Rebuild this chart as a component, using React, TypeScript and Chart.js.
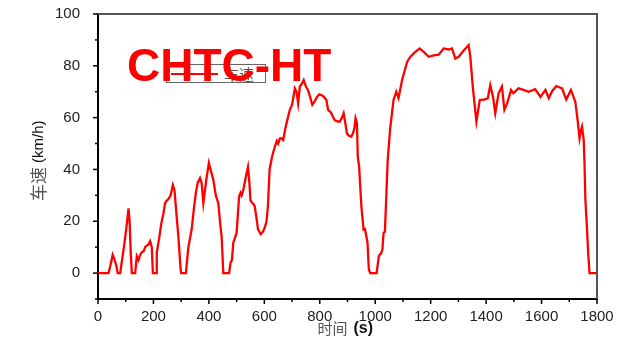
import React, { useEffect, useRef } from "react";
import { Chart, registerables } from "chart.js";

Chart.register(...registerables);

const timeS = [
  0, 38, 45, 53, 60, 66, 71, 80, 88, 96, 104, 110, 114, 118, 122, 134, 140, 146, 152, 158,
  165, 170, 176, 182, 188, 194, 198, 210, 212, 220, 228, 236, 242, 248, 254, 262, 270, 276, 282, 290,
  298, 300, 317, 326, 338, 346, 353, 360, 368, 374, 380, 386, 392, 400, 406, 416, 425, 434, 440, 446,
  452, 473, 478, 483, 488, 500, 506, 509, 514, 518, 524, 533, 541, 546, 550, 558, 565, 572, 577, 587,
  595, 601, 608, 613, 619, 628, 638, 645, 650, 656, 662, 668, 677, 685, 692, 700, 705, 710, 716, 722,
  728, 735, 742, 750, 758, 765, 773, 780, 790, 798, 806, 815, 824, 830, 840, 854, 865, 872, 880, 886,
  892, 898, 905, 914, 920, 925, 929, 934, 937, 942, 950, 958, 963, 968, 972, 977, 982, 1005, 1013, 1018,
  1021, 1026, 1030, 1035, 1045, 1054, 1066, 1076, 1084, 1097, 1115, 1127, 1145, 1160, 1175, 1193, 1211, 1229, 1247, 1265,
  1277, 1289, 1301, 1319, 1337, 1343, 1353, 1365, 1377, 1397, 1406, 1415, 1425, 1433, 1445, 1457, 1466, 1476, 1490, 1498,
  1517, 1535, 1553, 1577, 1596, 1614, 1626, 1638, 1653, 1674, 1689, 1706, 1722, 1730, 1737, 1742, 1746, 1752, 1755, 1758,
  1764, 1768, 1773, 1800,
];

const speedKmh = [
  0, 0, 3, 7, 5, 3, 0, 0, 6, 12, 19, 25, 20, 8, 0, 0, 6.5, 5, 7, 8,
  8.5, 10, 10.6, 11, 12.3, 10, 0, 0, 8, 13, 19, 23, 27, 28, 28.6, 30, 34, 32, 24, 14,
  1.4, 0, 0, 10, 17, 25, 31, 35, 36.7, 34.7, 27, 32, 37, 42.5, 40, 36, 30, 27, 20, 14,
  0, 0, 4, 5, 11.7, 15.5, 25, 29.6, 31, 30, 32, 37, 41, 35, 28, 27, 26, 21, 17, 15,
  16, 17.4, 20, 26, 40, 45, 48.8, 51, 50, 52, 52, 51.4, 56.5, 60, 63, 65, 68, 71.3, 70, 65.5,
  72, 73, 74.5, 72, 70.6, 68, 65, 66, 68, 69, 68.7, 68, 66.8, 63, 62, 59, 58.5, 58.5, 60, 61.7,
  58, 54, 53, 52.7, 54, 56, 59.8, 58, 45, 41, 25.8, 16.8, 17, 14.2, 12, 1.4, 0, 0, 6.5, 7.3,
  7.5, 9.2, 15.5, 16, 43.7, 55.9, 66.8, 70, 67.5, 74.5, 81.5, 83.5, 85.4, 86.7, 85.4, 83.5, 84, 84.3, 86.7, 86.3,
  86.7, 82.8, 83.5, 85.9, 88, 83.5, 70.7, 58.5, 66.8, 67, 67.5, 72.6, 68, 61.7, 69.4, 72, 63, 65.5, 70.7, 69.4,
  71.3, 70.7, 70, 71, 68, 70.7, 67.5, 70.2, 72.2, 71.3, 67, 70.7, 66, 59, 52, 55, 56.5, 51.5, 42, 28.5,
  17, 8, 0, 0,
];

const xLabelTicks = [0, 200, 400, 600, 800, 1000, 1200, 1400, 1600, 1800];
const yLabelTicks = [0, 20, 40, 60, 80, 100];

const seriesName = "车速";
const overlayTitle = "CHTC-HT";
const xTitleCn = "时间";
const xTitleUnit = "(s)";
const yTitleCn = "车速";
const yTitleUnit = "(km/h)";

const overlayPlugin = {
  id: "overlayPlugin",
  afterDraw(chart: any) {
    const { ctx, chartArea: a, scales } = chart;
    const xs = scales.x;
    const ys = scales.y;
    ctx.save();

    // top / right frame
    ctx.strokeStyle = "#555";
    ctx.lineWidth = 2;
    ctx.beginPath();
    ctx.moveTo(a.left, a.top);
    ctx.lineTo(a.right, a.top);
    ctx.lineTo(a.right, a.bottom);
    ctx.stroke();

    // outward tick marks
    ctx.strokeStyle = "#000";
    ctx.lineWidth = 1.5;
    ys.ticks.forEach((t: any) => {
      const y = ys.getPixelForValue(t.value);
      const len = yLabelTicks.includes(t.value) ? 5 : 3;
      ctx.beginPath();
      ctx.moveTo(a.left, y);
      ctx.lineTo(a.left - len, y);
      ctx.stroke();
    });
    xs.ticks.forEach((t: any) => {
      const x = xs.getPixelForValue(t.value);
      const len = xLabelTicks.includes(t.value) ? 5 : 3;
      ctx.beginPath();
      ctx.moveTo(x, a.bottom);
      ctx.lineTo(x, a.bottom + len);
      ctx.stroke();
    });

    // legend box
    const lx = a.left + 68;
    const ly = a.top + 50;
    ctx.fillStyle = "#fff";
    ctx.fillRect(lx, ly, 99, 18);
    ctx.strokeStyle = "#666";
    ctx.lineWidth = 1;
    ctx.strokeRect(lx + 0.5, ly + 0.5, 99, 18);
    ctx.strokeStyle = "#ff0000";
    ctx.lineWidth = 2;
    ctx.beginPath();
    ctx.moveTo(lx + 5, ly + 10);
    ctx.lineTo(lx + 52, ly + 10);
    ctx.stroke();
    ctx.fillStyle = "#555";
    ctx.font = "15px 'Noto Sans CJK SC', serif";
    ctx.textBaseline = "middle";
    ctx.textAlign = "left";
    ctx.fillText(seriesName, lx + 58, ly + 10);

    // big red title
    ctx.fillStyle = "#ff0000";
    ctx.font = "bold 46px 'Liberation Sans', Arial, sans-serif";
    ctx.textBaseline = "alphabetic";
    ctx.textAlign = "left";
    ctx.fillText(overlayTitle, a.left + 29, a.top + 67);

    // x title
    const cx = (a.left + a.right) / 2;
    ctx.textBaseline = "middle";
    ctx.fillStyle = "#555";
    ctx.font = "15px 'Noto Sans CJK SC', serif";
    ctx.textAlign = "right";
    ctx.fillText(xTitleCn, cx - 0, 328);
    ctx.fillStyle = "#111";
    ctx.font = "bold 16px 'Liberation Sans', Arial, sans-serif";
    ctx.textAlign = "left";
    ctx.fillText(xTitleUnit, cx + 6, 329);

    // y title (rotated)
    ctx.translate(39, 160);
    ctx.rotate(-Math.PI / 2);
    ctx.fillStyle = "#555";
    ctx.font = "17px 'Noto Sans CJK SC', serif";
    ctx.textAlign = "left";
    ctx.fillText(yTitleCn, -41, 0);
    ctx.fillStyle = "#111";
    ctx.font = "15px 'Liberation Sans', Arial, sans-serif";
    ctx.fillText(yTitleUnit, -3, 0);

    ctx.restore();
  },
};

export default function App() {
  const canvasRef = useRef<HTMLCanvasElement | null>(null);

  useEffect(() => {
    if (!canvasRef.current) return;
    const points = timeS.map((t, i) => ({ x: t, y: speedKmh[i] }));
    const tickFont = { family: "'Liberation Sans', Arial, sans-serif", size: 15 };
    const chart = new Chart(canvasRef.current, {
      type: "line",
      data: {
        datasets: [
          {
            label: seriesName,
            data: points,
            borderColor: "#ff0000",
            borderWidth: 2.3,
            pointRadius: 0,
            tension: 0,
            fill: false,
          },
        ],
      },
      options: {
        animation: false,
        responsive: true,
        maintainAspectRatio: false,
        layout: { padding: { top: 14, right: 36, left: 0, bottom: 0 } },
        plugins: { legend: { display: false }, tooltip: { enabled: false } },
        scales: {
          x: {
            type: "linear",
            min: 0,
            max: 1800,
            grid: { display: false },
            border: { display: true, color: "#000", width: 2 },
            ticks: {
              stepSize: 100,
              autoSkip: false,
              maxRotation: 0,
              padding: 1,
              color: "#222",
              font: tickFont,
              callback: (v: any) => (xLabelTicks.includes(Number(v)) ? String(v) : ""),
            },
            afterFit: (s: any) => {
              s.height = 40;
              s.paddingLeft = 0;
              s.paddingRight = 0;
            },
          },
          y: {
            type: "linear",
            min: -10,
            max: 100,
            grid: { display: false },
            border: { display: true, color: "#000", width: 2 },
            ticks: {
              stepSize: 10,
              autoSkip: false,
              padding: 10,
              color: "#222",
              font: tickFont,
              callback: (v: any) => (yLabelTicks.includes(Number(v)) ? String(v) : ""),
            },
            afterFit: (s: any) => {
              s.width = 98;
              s.paddingTop = 0;
              s.paddingBottom = 0;
            },
          },
        },
      },
      plugins: [overlayPlugin],
    });
    return () => chart.destroy();
  }, []);

  return (
    <div style={{ position: "fixed", left: 0, top: 0, width: 633, height: 339, background: "#fff" }}>
      <canvas ref={canvasRef} />
    </div>
  );
}
